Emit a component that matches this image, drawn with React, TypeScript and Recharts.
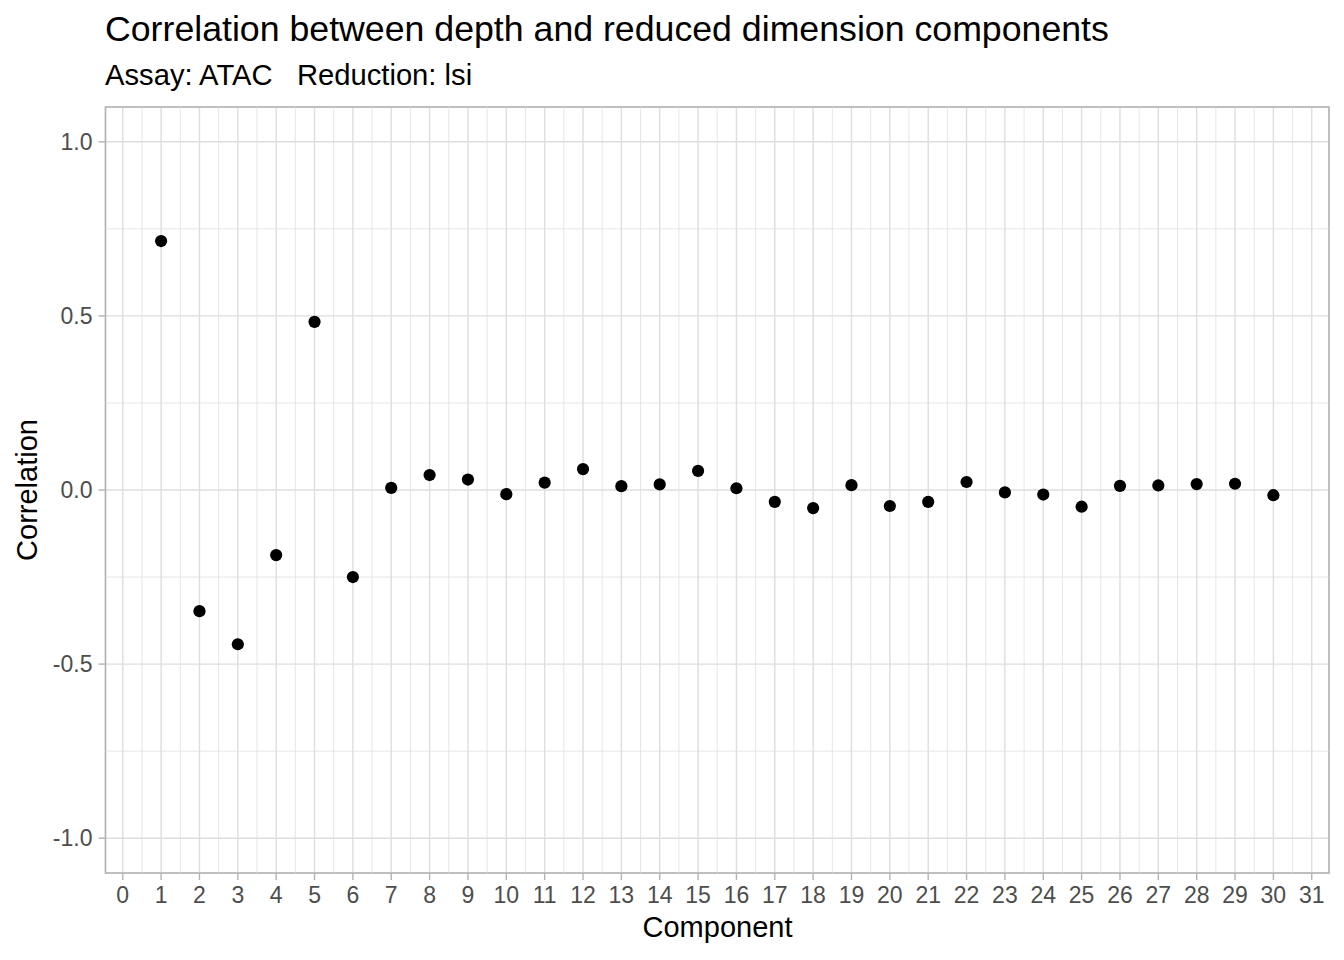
import React from "react";
import {
  ScatterChart,
  Scatter,
  XAxis,
  YAxis,
  CartesianGrid,
  ReferenceLine,
  ReferenceArea,
} from "recharts";

const components = [
  1, 2, 3, 4, 5, 6, 7, 8, 9, 10, 11, 12, 13, 14, 15, 16, 17, 18, 19, 20, 21,
  22, 23, 24, 25, 26, 27, 28, 29, 30,
];
const correlations = [
  0.715, -0.348, -0.443, -0.187, 0.483, -0.25, 0.006, 0.043, 0.03, -0.012,
  0.021, 0.06, 0.011, 0.016, 0.055, 0.005, -0.034, -0.052, 0.014, -0.046,
  -0.034, 0.023, -0.007, -0.013, -0.048, 0.012, 0.013, 0.017, 0.018, -0.015,
];
const xTicks = [
  0, 1, 2, 3, 4, 5, 6, 7, 8, 9, 10, 11, 12, 13, 14, 15, 16, 17, 18, 19, 20,
  21, 22, 23, 24, 25, 26, 27, 28, 29, 30, 31,
];
const xMinor = [
  0.5, 1.5, 2.5, 3.5, 4.5, 5.5, 6.5, 7.5, 8.5, 9.5, 10.5, 11.5, 12.5, 13.5,
  14.5, 15.5, 16.5, 17.5, 18.5, 19.5, 20.5, 21.5, 22.5, 23.5, 24.5, 25.5,
  26.5, 27.5, 28.5, 29.5, 30.5,
];
const yTicks = [-1, -0.5, 0, 0.5, 1];
const yMinor = [-0.75, -0.25, 0.25, 0.75];
const xDomain = [-0.45, 31.45];
const yDomain = [-1.1, 1.1];

const title = "Correlation between depth and reduced dimension components";
const subtitle = "Assay: ATAC   Reduction: lsi";
const xTitle = "Component";
const yTitle = "Correlation";

const data = components.map((c, i) => ({ x: c, y: correlations[i] }));

const FONT = '"Liberation Sans", Arial, Helvetica, sans-serif';
const GRID = "#dedede";
const BORDER = "#b3b3b3";

const Dot = (props: any) => {
  const { cx, cy } = props;
  if (cx == null || cy == null) return null;
  return <circle cx={cx} cy={cy} r={6.1} fill="#000000" />;
};

export default function App() {
  return (
    <div
      style={{
        position: "absolute",
        left: 0,
        top: 0,
        width: 1344,
        height: 960,
        background: "#ffffff",
        fontFamily: FONT,
      }}
    >
      <ScatterChart
        width={1344}
        height={960}
        margin={{ top: 107, right: 15, bottom: 47, left: 0 }}
      >
        <CartesianGrid stroke={GRID} strokeWidth={1.4} />
        {xMinor.map((v) => (
          <ReferenceLine
            key={"xm" + v}
            x={v}
            stroke={GRID}
            strokeWidth={0.75}
          />
        ))}
        {yMinor.map((v) => (
          <ReferenceLine
            key={"ym" + v}
            y={v}
            stroke={GRID}
            strokeWidth={0.75}
          />
        ))}
        <XAxis
          type="number"
          dataKey="x"
          domain={xDomain}
          ticks={xTicks}
          interval={0}
          allowDataOverflow
          axisLine={false}
          tickLine={{ stroke: BORDER, strokeWidth: 1.4 }}
          tickSize={7}
          tickMargin={7}
          height={40}
          tick={{ fill: "#4d4d4d", fontSize: 23 }}
        />
        <YAxis
          type="number"
          dataKey="y"
          domain={yDomain}
          ticks={yTicks}
          interval={0}
          allowDataOverflow
          axisLine={false}
          tickLine={{ stroke: BORDER, strokeWidth: 1.4 }}
          tickSize={7}
          tickMargin={6}
          width={105.5}
          tickFormatter={(v: number) => v.toFixed(1)}
          tick={{ fill: "#4d4d4d", fontSize: 23 }}
        />
        <ReferenceArea
          x1={xDomain[0]}
          x2={xDomain[1]}
          y1={yDomain[0]}
          y2={yDomain[1]}
          fill="none"
          fillOpacity={0}
          stroke={BORDER}
          strokeWidth={1.6}
        />
        <Scatter data={data} shape={<Dot />} isAnimationActive={false} />
      </ScatterChart>
      <svg
        width={1344}
        height={960}
        style={{ position: "absolute", left: 0, top: 0, pointerEvents: "none" }}
      >
        <text x={105} y={41} fontSize={35.7} fill="#000000" fontFamily={FONT}>
          {title}
        </text>
        <text
          x={105}
          y={85}
          fontSize={29.2}
          fill="#000000"
          fontFamily={FONT}
          style={{ whiteSpace: "pre" }}
        >
          {subtitle}
        </text>
        <text
          x={717.5}
          y={937}
          fontSize={29}
          fill="#000000"
          textAnchor="middle"
          fontFamily={FONT}
        >
          {xTitle}
        </text>
        <text
          x={37}
          y={490}
          fontSize={29}
          fill="#000000"
          textAnchor="middle"
          fontFamily={FONT}
          transform="rotate(-90 37 490)"
        >
          {yTitle}
        </text>
      </svg>
    </div>
  );
}
